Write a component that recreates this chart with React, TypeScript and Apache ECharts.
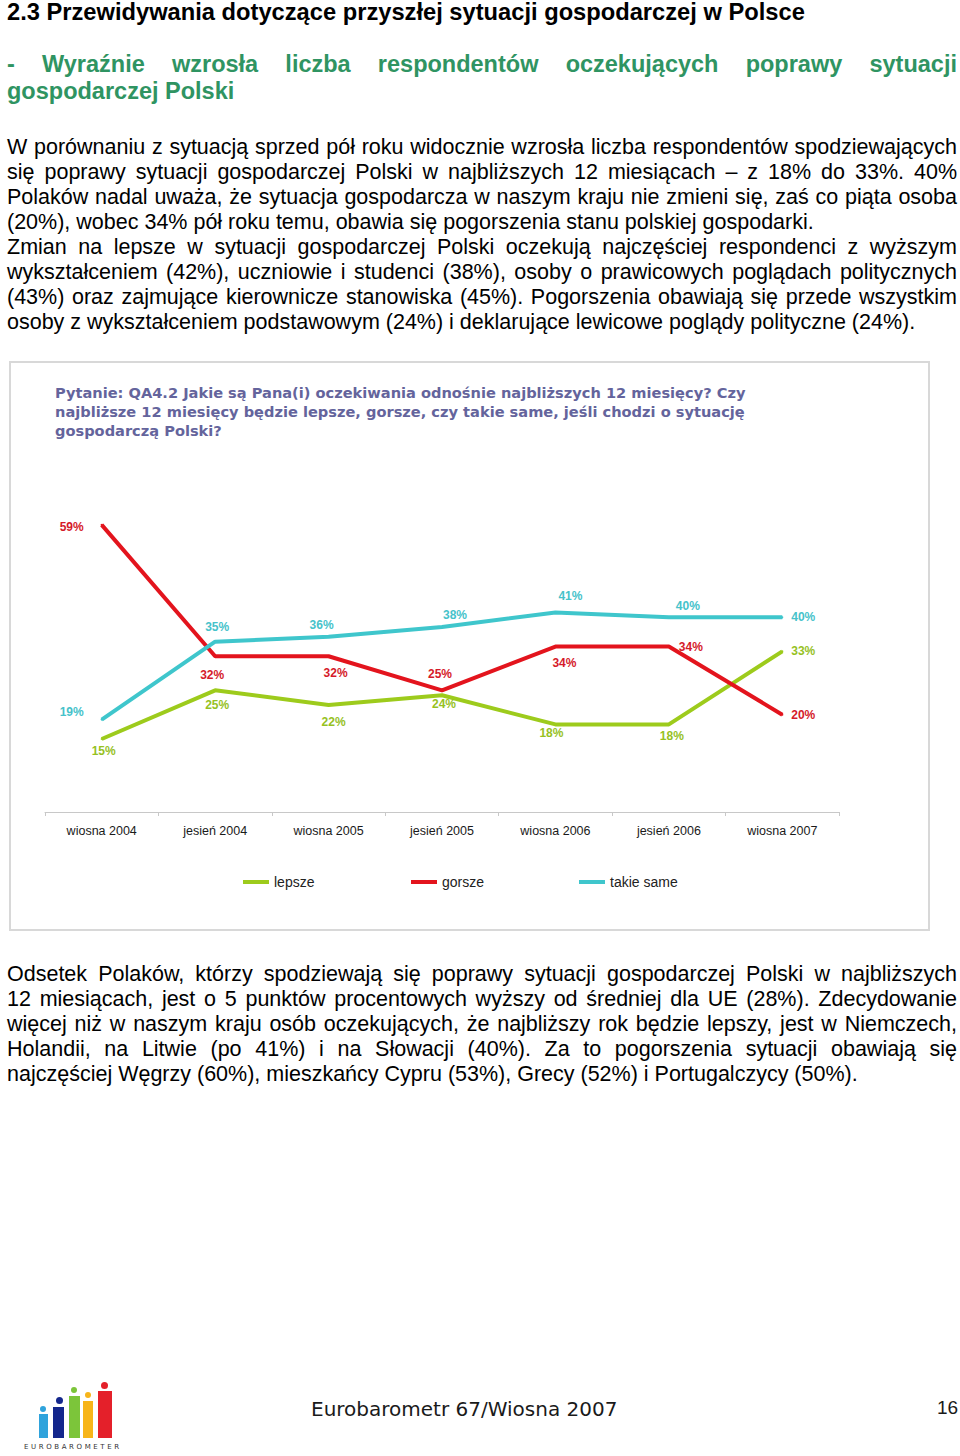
import React, { useEffect, useRef } from "react";
import * as echarts from "echarts";

const categories = ["wiosna 2004", "jesień 2004", "wiosna 2005", "jesień 2005", "wiosna 2006", "jesień 2006", "wiosna 2007"];
const lepsze = [15, 25, 22, 24, 18, 18, 33];
const gorsze = [59, 32, 32, 25, 34, 34, 20];
const takieSame = [19, 35, 36, 38, 41, 40, 40];
const seriesNames = ["lepsze", "gorsze", "takie same"];

// label placement (offset of label centre from the point)
const lepszeOffsets = [[2, 12], [2, 15], [5, 17], [2, 9], [-4, 9], [3, 12], [21, 0]];
const gorszeOffsets = [[-30, 2], [-3, 19], [7, 17], [-2, -16], [9, 16], [22, 0], [21, 0]];
const takieOffsets = [[-30, -8], [2, -15], [-7, -12], [13, -12], [15, -16], [19, -11], [21, 0]];

const question =
  "Pytanie: QA4.2 Jakie są Pana(i) oczekiwania odnośnie najbliższych 12 miesięcy? Czy\n" +
  "najbliższe 12 miesięcy będzie lepsze, gorsze, czy takie same, jeśli chodzi o sytuację\n" +
  "gospodarczą Polski?";

const para1 = [
  "W porównaniu z sytuacją sprzed pół roku widocznie wzrosła liczba respondentów spodziewających",
  "się poprawy sytuacji gospodarczej Polski w najbliższych 12 miesiącach – z 18% do 33%. 40%",
  "Polaków nadal uważa, że sytuacja gospodarcza w naszym kraju nie zmieni się, zaś co piąta osoba",
  "(20%), wobec 34% pół roku temu, obawia się pogorszenia stanu polskiej gospodarki.",
];
const para2 = [
  "Zmian na lepsze w sytuacji gospodarczej Polski oczekują najczęściej respondenci z wyższym",
  "wykształceniem (42%), uczniowie i studenci (38%), osoby o prawicowych poglądach politycznych",
  "(43%) oraz zajmujące kierownicze stanowiska (45%). Pogorszenia obawiają się przede wszystkim",
  "osoby z wykształceniem podstawowym (24%) i deklarujące lewicowe poglądy polityczne (24%).",
];
const para3 = [
  "Odsetek Polaków, którzy spodziewają się poprawy sytuacji gospodarczej Polski w najbliższych",
  "12 miesiącach, jest o 5 punktów procentowych wyższy od średniej dla UE (28%). Zdecydowanie",
  "więcej niż w naszym kraju osób oczekujących, że najbliższy rok będzie lepszy, jest w Niemczech,",
  "Holandii, na Litwie (po 41%) i na Słowacji (40%). Za to pogorszenia sytuacji obawiają się",
  "najczęściej Węgrzy (60%), mieszkańcy Cypru (53%), Grecy (52%) i Portugalczycy (50%).",
];

const COLORS = { lepsze: "#9dcb1c", gorsze: "#e3141d", takie: "#3fc6cc" };
const LABEL_COLORS = { lepsze: "#96c11f", gorsze: "#d51a2a", takie: "#46c2ca" };

function makeData(values: number[], offsets: number[][]) {
  return values.map((v, i) => ({ value: v, label: { offset: offsets[i] } }));
}

function Chart() {
  const ref = useRef<HTMLDivElement>(null);
  useEffect(() => {
    if (!ref.current) return;
    const chart = echarts.init(ref.current, undefined, { renderer: "svg" });
    const mkSeries = (name: string, values: number[], offsets: number[][], color: string, lcolor: string) => ({
      name,
      type: "line",
      data: makeData(values, offsets),
      symbol: "circle",
      symbolSize: 2,
      showSymbol: true,
      lineStyle: { color, width: 4 },
      itemStyle: { color },
      label: {
        show: true,
        position: "inside",
        formatter: "{c}%",
        color: lcolor,
        fontFamily: "Liberation Sans, Arial, sans-serif",
        fontWeight: "bold",
        fontSize: 12,
      },
    });
    const legendBase = {
      icon: "rect",
      itemWidth: 26,
      itemHeight: 4,
      top: 510,
      textStyle: { fontFamily: "Liberation Sans, Arial, sans-serif", fontSize: 14, color: "#222" },
    };
    chart.setOption({
      animation: false,
      backgroundColor: "#ffffff",
      title: {
        text: question,
        left: 50,
        top: 18,
        textStyle: {
          fontFamily: "DejaVu Sans, Verdana, sans-serif",
          fontWeight: "bold",
          fontSize: 14.6,
          lineHeight: 19,
          color: "#64649c",
        },
      },
      graphic: [
        {
          type: "rect",
          shape: { x: 10, y: 2, width: 919, height: 568 },
          style: { fill: "none", stroke: "#d8d8d8", lineWidth: 2 },
          silent: true,
        },
      ],
      legend: [
        { ...legendBase, data: [seriesNames[0]], left: 238 },
        { ...legendBase, data: [seriesNames[1]], left: 406 },
        { ...legendBase, data: [seriesNames[2]], left: 574 },
      ],
      grid: { left: 45, top: 160, width: 794, height: 292 },
      xAxis: {
        type: "category",
        data: categories,
        boundaryGap: true,
        axisLine: { lineStyle: { color: "#c8c8c8", width: 1 } },
        axisTick: { show: true, length: 4, lineStyle: { color: "#c8c8c8" } },
        axisLabel: {
          color: "#1a1a1a",
          fontSize: 12.5,
          fontFamily: "Liberation Sans, Arial, sans-serif",
          margin: 12,
        },
      },
      yAxis: { type: "value", min: 0, max: 60, show: false, splitLine: { show: false } },
      series: [
        mkSeries(seriesNames[0], lepsze, lepszeOffsets, COLORS.lepsze, LABEL_COLORS.lepsze),
        mkSeries(seriesNames[1], gorsze, gorszeOffsets, COLORS.gorsze, LABEL_COLORS.gorsze),
        mkSeries(seriesNames[2], takieSame, takieOffsets, COLORS.takie, LABEL_COLORS.takie),
      ],
    });
    return () => chart.dispose();
  }, []);
  return <div ref={ref} style={{ position: "absolute", left: 0, top: 360, width: 960, height: 574 }} />;
}

function TextBlock({ lines, top, fontSize, lineHeight, style }: any) {
  return (
    <>
      {lines.map((t: string, i: number) => (
        <div
          key={i}
          style={{
            position: "absolute",
            left: 7,
            top: top + i * lineHeight,
            width: 950,
            fontSize,
            lineHeight: lineHeight + "px",
            textAlign: "justify",
            textAlignLast: i === lines.length - 1 ? "left" : "justify",
            whiteSpace: "normal",
            ...style,
          }}
        >
          {t}
        </div>
      ))}
    </>
  );
}

function Logo() {
  const bars = [
    { x: 39, w: 9, top: 1414, c: "#2fa3dc", dx: 42.5, dy: 1409, r: 3 },
    { x: 53, w: 11, top: 1407, c: "#14278c", dx: 59, dy: 1400, r: 3.5 },
    { x: 69, w: 11, top: 1396, c: "#7cc53a", dx: 74, dy: 1389.5, r: 3 },
    { x: 83, w: 10, top: 1401, c: "#f7b51a", dx: 88, dy: 1394.5, r: 3 },
    { x: 98, w: 14, top: 1391, c: "#e4202a", dx: 104, dy: 1385, r: 3.5 },
  ];
  return (
    <>
      {bars.map((b, i) => (
        <React.Fragment key={i}>
          <div style={{ position: "absolute", left: b.x, top: b.top, width: b.w, height: 1438 - b.top, background: b.c }} />
          <div
            style={{
              position: "absolute",
              left: b.dx - b.r,
              top: b.dy - b.r,
              width: b.r * 2,
              height: b.r * 2,
              borderRadius: "50%",
              background: b.c,
            }}
          />
        </React.Fragment>
      ))}
      <div
        style={{
          position: "absolute",
          left: 24,
          top: 1442,
          width: 104,
          fontSize: 7,
          lineHeight: "10px",
          letterSpacing: "2.6px",
          color: "#333",
          fontFamily: "DejaVu Sans, sans-serif",
        }}
      >
        EUROBAROMETER
      </div>
    </>
  );
}

export default function App() {
  return (
    <div
      style={{
        position: "absolute",
        left: 0,
        top: 0,
        width: 960,
        height: 1456,
        background: "#fff",
        color: "#000",
        fontFamily: "'Liberation Sans', Arial, sans-serif",
        overflow: "hidden",
      }}
    >
      <div style={{ position: "absolute", left: 7, top: -2, fontSize: 23.7, lineHeight: "28px", fontWeight: "bold", whiteSpace: "nowrap" }}>
        2.3 Przewidywania dotyczące przyszłej sytuacji gospodarczej w Polsce
      </div>
      <TextBlock
        lines={["- Wyraźnie wzrosła liczba respondentów oczekujących poprawy sytuacji", "gospodarczej Polski"]}
        top={51}
        fontSize={23.5}
        lineHeight={27}
        style={{ fontWeight: "bold", color: "#2f9462" }}
      />
      <TextBlock lines={para1} top={135} fontSize={21.5} lineHeight={25} />
      <TextBlock lines={para2} top={235} fontSize={21.5} lineHeight={25} />
      <Chart />
      <TextBlock lines={para3} top={962} fontSize={21.5} lineHeight={25} />
      <Logo />
      <div
        style={{
          position: "absolute",
          left: 311,
          top: 1397,
          fontSize: 20,
          lineHeight: "24px",
          fontFamily: "'DejaVu Sans', Verdana, sans-serif",
          color: "#1a1a1a",
          whiteSpace: "nowrap",
        }}
      >
        Eurobarometr 67/Wiosna 2007
      </div>
      <div style={{ position: "absolute", left: 937, top: 1396, fontSize: 19, lineHeight: "24px", color: "#1a1a1a" }}>16</div>
    </div>
  );
}
